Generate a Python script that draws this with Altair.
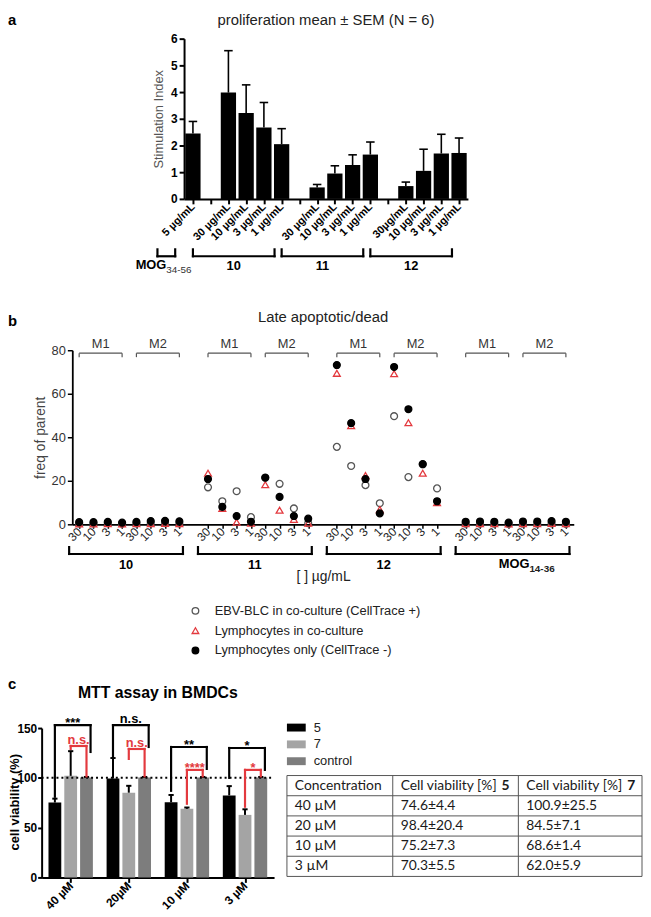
import json
import altair as alt
import pandas as pd

FONT = "Liberation Sans"
TFONT = "Lato"
RED = "#e3393e"

# ======================= data =======================
# panel a
a_title = "proliferation mean ± SEM (N = 6)"
a_tick_labels = ["5 µg/mL", "", "30 µg/mL", "10 µg/mL", "3 µg/mL", "1 µg/mL", "",
                 "30 µg/mL", "10 µg/mL", "3 µg/mL", "1 µg/mL", "",
                 "30µg/mL", "10 µg/mL", "3 µg/mL", "1 µg/mL"]
a_bar_slot = [0, 2, 3, 4, 5, 7, 8, 9, 10, 12, 13, 14, 15]
a_bar_mean = [2.45, 3.98, 3.22, 2.67, 2.05, 0.43, 0.95, 1.27, 1.66, 0.48, 1.05, 1.70, 1.72]
a_bar_sem = [0.45, 1.57, 1.05, 0.94, 0.58, 0.11, 0.29, 0.38, 0.47, 0.15, 0.81, 0.72, 0.56]
a_group_names = ["MOG", "10", "11", "12"]
a_group_sub = ["34-56", "", "", ""]
a_group_first = [0, 2, 7, 12]
a_group_last = [0, 5, 10, 15]

# panel b
b_title = "Late apoptotic/dead"
b_group_names = ["10", "11", "12", "MOG"]
b_group_sub = ["", "", "", "14-36"]
b_mix_names = ["M1", "M2"]
b_conc_labels = ["30", "10", "3", "1"]
b_axis_title = "[ ] µg/mL"
b_series = ["EBV-BLC in co-culture (CellTrace +)", "Lymphocytes in co-culture",
            "Lymphocytes only (CellTrace -)"]
b_ebv = [0.4, 0.4, 0.5, 0.3, 0.4, 0.5, 0.5, 0.4,
         17.0, 10.6, 15.2, 3.3, 21.5, 18.6, 7.3, 0.5,
         35.6, 26.8, 18.0, 9.7, 49.7, 21.7, 27.5, 16.5,
         0.3, 0.3, 0.3, 0.2, 0.3, 0.3, 0.4, 0.2]
b_lymph_co = [0.2, 0.2, 0.3, 0.2, 0.3, 0.3, 0.4, 0.3,
              23.5, 7.3, 1.0, 0.5, 18.2, 6.5, 2.3, 0.5,
              69.4, 45.3, 22.4, 6.8, 69.2, 46.7, 23.5, 10.0,
              0.3, 0.3, 0.3, 0.2, 0.3, 0.3, 0.4, 0.3]
b_lymph_only = [1.0, 1.0, 1.1, 0.8, 1.1, 1.5, 1.6, 1.4,
                20.8, 8.0, 3.8, 1.2, 21.4, 12.6, 3.8, 2.6,
                73.2, 46.5, 20.8, 5.0, 72.3, 52.9, 27.7, 10.6,
                1.2, 1.3, 1.2, 0.8, 1.3, 1.3, 1.5, 1.2]

# panel c
c_title = "MTT assay in BMDCs"
c_ytitle = "cell viability (%)"
c_conc = ["40 µM", "20µM", "10 µM", "3 µM"]
c_series = ["5", "7", "control"]
c_mean_5 = [75.2, 99.3, 75.5, 82.4]
c_sem_5 = [3.9, 20.6, 7.3, 9.3]
c_mean_7 = [102.0, 85.1, 68.9, 62.8]
c_sem_7 = [24.8, 6.9, 1.3, 5.6]
c_mean_ctrl = [100.3, 100.3, 100.3, 100.3]
c_sem_ctrl = [0.6, 0.6, 0.6, 0.6]
# significance brackets (values on the cell-viability axis)
sig_black_top = [153, 153, 131, 130]
sig_black_left_end = [81, 121, 87, 100]
sig_black_right_end = [126, 131, 109, 108]
sig_black_label = ["***", "n.s.", "**", "*"]
sig_red_top = [132, 129, 108, 108]
sig_red_left_end = [129, 119, 74, 71]
sig_red_right_end = [101.5, 101.5, 101.5, 101.5]
sig_red_label = ["n.s.", "n.s.", "****", "*"]

# table
t_header = ["Concentration", "Cell viability [%]", "Cell viability [%]"]
t_header_bold = ["", "5", "7"]
t_conc = ["40 µM", "20 µM", "10 µM", "3 µM"]
t_via5 = ["74.6±4.4", "98.4±20.4", "75.2±7.3", "70.3±5.5"]
t_via7 = ["100.9±25.5", "84.5±7.1", "68.6±1.4", "62.0±5.9"]


def one(s):
    return pd.DataFrame({"t": [s]})


def jsarr(lst):
    return json.dumps(lst, ensure_ascii=False)


# all rows share one left origin (the left edge of panel c's plot)
X0 = 42
LETTER_X = 8 - X0


def letter(ch, y):
    return alt.Chart(one(ch)).mark_text(
        font=FONT, fontSize=15, fontWeight="bold", align="left", baseline="top",
        color="black").encode(text="t:N", x=alt.value(LETTER_X), y=alt.value(y))


br = dict(color="black", strokeWidth=2.2, strokeCap="square")

# ======================= panel a =======================
AW, AH = 287, 162
AOFF = 186 - X0
a_x = alt.Scale(domain=[-0.5, len(a_tick_labels) - 0.5], range=[AOFF, AOFF + AW],
                nice=False, zero=False)
a_y = alt.Scale(domain=[0, 6], nice=False)
a_xaxis = alt.Axis(values=list(range(len(a_tick_labels))),
                   labelExpr=jsarr(a_tick_labels) + "[datum.value]",
                   title=None, labelAngle=-45, labelAlign="right", labelBaseline="middle",
                   labelFont=FONT, labelFontSize=11, labelFontWeight="bold", labelColor="black",
                   labelPadding=1, labelFlush=False, labelOverlap=False, labelBound=False,
                   tickSize=5, tickWidth=2, tickColor="black", domainWidth=2,
                   domainColor="black", grid=False)
a_yaxis = alt.Axis(values=[0, 1, 2, 3, 4, 5, 6], title="Stimulation Index", titleFont=FONT,
                   titleFontSize=13, titleFontWeight="normal", titleColor="#555",
                   titlePadding=5, labelFont=FONT, labelFontSize=12, labelFontWeight="bold",
                   labelColor="black", labelPadding=2, labelFlush=False, labelOverlap=False,
                   tickSize=5, tickWidth=2, tickColor="black", domainWidth=2,
                   domainColor="black", grid=False, offset=-AOFF)


def AX(f):
    return alt.X(f, scale=a_x, axis=a_xaxis)


def AY(f):
    return alt.Y(f, scale=a_y, axis=a_yaxis)


a_df = pd.DataFrame({"slot": a_bar_slot, "mean": a_bar_mean, "sem": a_bar_sem})
a_base = alt.Chart(a_df).transform_calculate(
    x0="datum.slot - 0.43", x1="datum.slot + 0.43", top="datum.mean + datum.sem",
    c0="datum.slot - 0.24", c1="datum.slot + 0.24", z="0")
a_bars = a_base.mark_bar(color="black").encode(x=AX("x0:Q"), x2="x1:Q",
                                               y=AY("mean:Q"), y2="z:Q")
a_err = a_base.mark_rule(color="black", strokeWidth=1.6).encode(
    x=AX("slot:Q"), y=AY("mean:Q"), y2="top:Q")
a_cap = a_base.mark_rule(color="black", strokeWidth=1.6).encode(
    x=AX("c0:Q"), x2="c1:Q", y=AY("top:Q"))

a_grp = pd.DataFrame({"name": a_group_names, "sub": a_group_sub,
                      "first": a_group_first, "last": a_group_last})
a_gb = alt.Chart(a_grp).transform_calculate(
    b0="datum.first - 2",
    b1="datum.first == datum.last ? datum.last - 1 : datum.last - 0.4",
    mid="(datum.b0 + datum.b1) / 2")
A_T, A_B = AH + 51, AH + 58
a_h = a_gb.mark_rule(**br).encode(x=AX("b0:Q"), x2="b1:Q", y=alt.value(A_B))
a_l = a_gb.mark_rule(**br).encode(x=AX("b0:Q"), y=alt.value(A_T), y2=alt.value(A_B))
a_r = a_gb.mark_rule(**br).encode(x=AX("b1:Q"), y=alt.value(A_T), y2=alt.value(A_B))
a_gl = a_gb.transform_filter("datum.sub == ''").mark_text(
    font=FONT, fontSize=13, fontWeight="bold", color="black", baseline="middle").encode(
    x=AX("mid:Q"), y=alt.value(AH + 68), text="name:N")
a_mog = a_gb.transform_filter("datum.sub != ''").mark_text(
    font=FONT, fontSize=13, fontWeight="bold", color="black", baseline="middle",
    align="right").encode(x=AX("mid:Q"), y=alt.value(AH + 67), text="name:N")
a_mogs = a_gb.transform_filter("datum.sub != ''").mark_text(
    font=FONT, fontSize=10, color="#333", baseline="middle", align="left").encode(
    x=AX("mid:Q"), y=alt.value(AH + 72), text="sub:N")
a_tl = alt.Chart(one(a_title)).mark_text(
    font=FONT, fontSize=15, color="#222", baseline="top").encode(
    text="t:N", x=alt.value(AOFF + AW / 2), y=alt.value(-26))
rowA = alt.layer(a_bars, a_err, a_cap, a_h, a_l, a_r, a_gl, a_mog, a_mogs, a_tl,
                 letter("a", -26)).properties(width=AOFF + AW, height=AH)

# ======================= panel b =======================
BW, BH = 507, 176
BOFF = 73 - X0
nconc = len(b_conc_labels)
step = len(b_mix_names) * nconc + 1
b_idx = [g * step + m * nconc + c for g in range(len(b_group_names))
         for m in range(len(b_mix_names)) for c in range(nconc)]
rows = []
for s, vals in zip(b_series, [b_ebv, b_lymph_co, b_lymph_only]):
    for i, v in zip(b_idx, vals):
        rows.append({"idx": i, "value": v, "bseries": s})
b_df = pd.DataFrame(rows)
b_x = alt.Scale(domain=[-0.48, b_idx[-1] + 0.55], range=[BOFF, BOFF + BW],
                nice=False, zero=False)
b_y = alt.Scale(domain=[0, 80], nice=False)
b_xaxis = alt.Axis(values=b_idx, labelExpr=jsarr(b_conc_labels) + f"[datum.value % {step} % {nconc}]",
                   title=b_axis_title, titleFont=FONT, titleFontSize=14, titleFontWeight="normal",
                   titleColor="#222", titleY=53, titleBaseline="middle",
                   labelAngle=-45, labelAlign="right", labelBaseline="middle",
                   labelFont=FONT, labelFontSize=12, labelColor="#222", labelPadding=1,
                   labelFlush=False, labelOverlap=False, labelBound=False,
                   tickSize=4, tickWidth=1.5, tickColor="black", domainWidth=1.8,
                   domainColor="black", grid=False)
b_yaxis = alt.Axis(values=[0, 20, 40, 60, 80], title="freq of parent", titleFont=FONT,
                   titleFontSize=14, titleFontWeight="normal", titleColor="#444", titlePadding=4,
                   labelFont=FONT, labelFontSize=13, labelColor="#333", labelPadding=2,
                   labelFlush=False, labelOverlap=False, tickSize=5, tickWidth=1.5,
                   tickColor="black", domainWidth=1.8, domainColor="black", grid=False,
                   offset=-BOFF)


def BX(f):
    return alt.X(f, scale=b_x, axis=b_xaxis)


b_leg = alt.Legend(orient="none", legendX=118 + BOFF, legendY=257, title=None, labelFont=FONT,
                   labelFontSize=13, labelColor="#222", symbolSize=45, symbolStrokeWidth=1.3,
                   rowPadding=6, labelOffset=13, padding=0, labelLimit=0)
b_pts = alt.Chart(b_df).mark_point(size=48, strokeWidth=1.3, opacity=1).encode(
    x=BX("idx:Q"),
    y=alt.Y("value:Q", scale=b_y, axis=b_yaxis),
    shape=alt.Shape("bseries:N", scale=alt.Scale(domain=b_series,
                    range=["circle", "triangle-up", "circle"]), legend=b_leg),
    fill=alt.Fill("bseries:N", scale=alt.Scale(domain=b_series,
                  range=["transparent", "transparent", "black"]), legend=b_leg),
    stroke=alt.Stroke("bseries:N", scale=alt.Scale(domain=b_series,
                      range=["#555555", RED, "black"]), legend=b_leg),
)
m_rows = []
for g in range(len(b_group_names)):
    for mi, mn in enumerate(b_mix_names):
        f = g * step + mi * nconc
        m_rows.append({"m": mn, "f": f, "l": f + nconc - 1})
m_base = alt.Chart(pd.DataFrame(m_rows)).transform_calculate(mid="(datum.f + datum.l) / 2")
mb = dict(color="#555", strokeWidth=1.2)
b_mh = m_base.mark_rule(**mb).encode(x=BX("f:Q"), x2="l:Q", y=alt.value(3))
b_ml = m_base.mark_rule(**mb).encode(x=BX("f:Q"), y=alt.value(3), y2=alt.value(7))
b_mr = m_base.mark_rule(**mb).encode(x=BX("l:Q"), y=alt.value(3), y2=alt.value(7))
b_mt = m_base.mark_text(font=FONT, fontSize=13, color="#333", baseline="middle").encode(
    x=BX("mid:Q"), y=alt.value(-6), text="m:N")

bg = pd.DataFrame({"name": b_group_names, "sub": b_group_sub,
                   "first": [g * step for g in range(len(b_group_names))],
                   "last": [g * step + step - 2 for g in range(len(b_group_names))]})
bg_base = alt.Chart(bg).transform_calculate(
    b0="datum.first - 0.7", b1="datum.last + 0.25", mid="(datum.b0 + datum.b1) / 2")
B_T, B_B = BH + 23, BH + 30
b_gh = bg_base.mark_rule(**br).encode(x=BX("b0:Q"), x2="b1:Q", y=alt.value(B_B))
b_gl = bg_base.mark_rule(**br).encode(x=BX("b0:Q"), y=alt.value(B_T), y2=alt.value(B_B))
b_gr = bg_base.mark_rule(**br).encode(x=BX("b1:Q"), y=alt.value(B_T), y2=alt.value(B_B))
b_gt = bg_base.transform_filter("datum.sub == ''").mark_text(
    font=FONT, fontSize=13, fontWeight="bold", color="black", baseline="middle").encode(
    x=BX("mid:Q"), y=alt.value(BH + 41), text="name:N")
b_mog = bg_base.transform_filter("datum.sub != ''").mark_text(
    font=FONT, fontSize=13, fontWeight="bold", color="black", baseline="middle",
    align="right", dx=17).encode(x=BX("mid:Q"), y=alt.value(BH + 40), text="name:N")
b_mogs = bg_base.transform_filter("datum.sub != ''").mark_text(
    font=FONT, fontSize=10, fontWeight="bold", color="#222", baseline="middle",
    align="left", dx=17).encode(x=BX("mid:Q"), y=alt.value(BH + 45), text="sub:N")
b_tl = alt.Chart(one(b_title)).mark_text(
    font=FONT, fontSize=15, color="#222", baseline="middle").encode(
    text="t:N", x=alt.value(BOFF + BW / 2), y=alt.value(-34))
rowB = alt.layer(b_pts, b_mh, b_ml, b_mr, b_mt, b_gh, b_gl, b_gr, b_gt, b_mog, b_mogs,
                 b_tl, letter("b", -36)).properties(width=BOFF + BW, height=BH)

# ======================= panel c =======================
CW, CH = 235, 151
CTOP = 53          # empty band above panel c's plot (title, brackets)
C_ROW_W = 607      # panel c plot + legend + table
c_x = alt.Scale(domain=[-0.5, len(c_conc) - 0.5], range=[0, CW], nice=False, zero=False)
c_y = alt.Scale(domain=[0, 150], range=[CTOP + CH, CTOP], nice=False)
rows = []
for gi in range(len(c_conc)):
    for si, (s, mm, ss) in enumerate(zip(c_series, [c_mean_5, c_mean_7, c_mean_ctrl],
                                          [c_sem_5, c_sem_7, c_sem_ctrl])):
        rows.append({"gi": gi, "si": si, "cseries": s, "mean": mm[gi], "sem": ss[gi]})
c_df = pd.DataFrame(rows)
c_xaxis = alt.Axis(values=list(range(len(c_conc))), labelExpr=jsarr(c_conc) + "[datum.value]",
                   title=None, labelAngle=-45, labelAlign="right", labelBaseline="middle",
                   labelFont=FONT, labelFontSize=12, labelFontWeight="bold", labelColor="black",
                   labelPadding=1, labelFlush=False, labelOverlap=False, labelBound=False,
                   tickSize=5, tickWidth=2, tickColor="black", domainWidth=2,
                   domainColor="black", grid=False)
c_yaxis = alt.Axis(values=[0, 50, 100, 150], title=None, labelFont=FONT, labelFontSize=12,
                   labelFontWeight="bold", labelColor="black", labelPadding=1, labelFlush=False,
                   labelOverlap=False, tickSize=4, tickWidth=2, tickColor="black",
                   domainWidth=2, domainColor="black", grid=False)


def CX(f):
    return alt.X(f, scale=c_x, axis=c_xaxis)


def CY(f):
    return alt.Y(f, scale=c_y, axis=c_yaxis)


c_leg = alt.Legend(orient="none", legendX=248, legendY=CTOP - 10, title=None, labelFont=FONT,
                   labelFontSize=13, labelColor="#222", symbolType="M-1,-0.42H1V0.42H-1Z",
                   symbolSize=361, symbolStrokeWidth=0, rowPadding=-1.5, labelOffset=8,
                   padding=0)
c_base = alt.Chart(c_df).transform_calculate(
    pos="datum.gi + (datum.si - 1) * 0.272").transform_calculate(
    x0="datum.pos - 0.11", x1="datum.pos + 0.11", top="datum.mean + datum.sem",
    c0="datum.pos - 0.045", c1="datum.pos + 0.045", z="0", xl="-0.5",
    xr=f"{len(c_conc)} - 0.5", ref="100")
c_bars = c_base.mark_bar().encode(
    x=CX("x0:Q"), x2="x1:Q", y=CY("mean:Q"), y2="z:Q",
    color=alt.Color("cseries:N", scale=alt.Scale(domain=c_series,
                    range=["#000000", "#a4a4a4", "#7d7d7d"]), legend=c_leg))
c_err = c_base.mark_rule(color="black", strokeWidth=2).encode(
    x=CX("pos:Q"), y=CY("mean:Q"), y2="top:Q")
c_cap = c_base.mark_rule(color="black", strokeWidth=2).encode(
    x=CX("c0:Q"), x2="c1:Q", y=CY("top:Q"))
c_dot = c_base.transform_filter("datum.gi == 0 && datum.si == 0").mark_rule(
    color="black", strokeWidth=2, strokeDash=[2, 3]).encode(
    x=CX("xl:Q"), x2="xr:Q", y=CY("ref:Q"))

sig_rows = []
for gi in range(len(c_conc)):
    sig_rows.append({"gi": gi, "kind": "black", "ls": 0, "rs": 2, "top": sig_black_top[gi],
                     "lb": sig_black_left_end[gi], "rb": sig_black_right_end[gi],
                     "label": sig_black_label[gi]})
    sig_rows.append({"gi": gi, "kind": "red", "ls": 1, "rs": 2, "top": sig_red_top[gi],
                     "lb": sig_red_left_end[gi], "rb": sig_red_right_end[gi],
                     "label": sig_red_label[gi]})
sig_base = alt.Chart(pd.DataFrame(sig_rows)).transform_calculate(
    l="datum.gi + (datum.ls - 1) * 0.272",
    r="datum.gi + (datum.rs - 1) * 0.272 + (datum.kind == 'black' ? 0.07 : 0)").transform_calculate(
    mid="(datum.l + datum.r) / 2",
    ly="datum.label == 'n.s.' ? datum.top + 6 : datum.top + 2")
sig_stroke = alt.Stroke("kind:N", scale=alt.Scale(domain=["black", "red"], range=["black", RED]),
                        legend=None)
sig_fill = alt.Fill("kind:N", scale=alt.Scale(domain=["black", "red"], range=["black", RED]),
                    legend=None)
sr = dict(strokeWidth=2.2, strokeCap="square")
s_h = sig_base.mark_rule(**sr).encode(x=CX("l:Q"), x2="r:Q", y=CY("top:Q"), stroke=sig_stroke)
s_l = sig_base.mark_rule(**sr).encode(x=CX("l:Q"), y=CY("top:Q"), y2="lb:Q", stroke=sig_stroke)
s_r = sig_base.mark_rule(**sr).encode(x=CX("r:Q"), y=CY("top:Q"), y2="rb:Q", stroke=sig_stroke)
s_t = sig_base.mark_text(font=FONT, fontSize=13, fontWeight="bold", baseline="middle").encode(
    x=CX("mid:Q"), y=CY("ly:Q"), text="label:N", fill=sig_fill)
c_tl = alt.Chart(one(c_title)).mark_text(
    font=FONT, fontSize=16, fontWeight="bold", color="black", baseline="middle").encode(
    text="t:N", x=alt.value(CW / 2), y=alt.value(CTOP - 35))
c_yt = alt.Chart(one(c_ytitle)).mark_text(
    font=FONT, fontSize=13, fontWeight="bold", color="black", angle=270,
    baseline="middle", align="center").encode(
    text="t:N", x=alt.value(15 - X0), y=alt.value(CTOP + 75))
panelC = alt.layer(c_bars, c_err, c_cap, c_dot, s_h, s_l, s_r, s_t, c_tl, c_yt,
                   letter("c", CTOP - 51))

# ======================= table =======================
cells = []
table_rows = [t_header] + [list(r) for r in zip(t_conc, t_via5, t_via7)]
for ri, row in enumerate(table_rows):
    for ci, txt in enumerate(row):
        cells.append({"row": ri, "col": ci, "txt": txt,
                      "bold": t_header_bold[ci] if ri == 0 else ""})
ncols, nrows = len(t_header), len(table_rows)
t_x = alt.Scale(domain=list(range(ncols + 1)), range=[248, 355, 482, C_ROW_W],
                nice=False, zero=False)
t_y = alt.Scale(domain=[0, nrows], range=[CTOP + 48, CTOP + 150], nice=False, zero=False)
t_base = alt.Chart(pd.DataFrame(cells)).transform_calculate(yc="datum.row + 0.5")
t_text = t_base.mark_text(font=TFONT, fontSize=14, color="#1a1a1a", align="left",
                          baseline="middle", dx=8).encode(
    x=alt.X("col:Q", scale=t_x, axis=None), y=alt.Y("yc:Q", scale=t_y, axis=None),
    text="txt:N")
t_bold = t_base.transform_filter("datum.bold != ''").mark_text(
    font=TFONT, fontSize=14, fontWeight="bold", color="#1a1a1a", align="left",
    baseline="middle", dx=110).encode(
    x=alt.X("col:Q", scale=t_x, axis=None), y=alt.Y("yc:Q", scale=t_y, axis=None),
    text="bold:N")
hl = pd.DataFrame({"r": list(range(nrows + 1)), "c0": 0, "c1": ncols})
vl = pd.DataFrame({"c": list(range(ncols + 1)), "r0": 0, "r1": nrows})
t_h = alt.Chart(hl).mark_rule(color="#555", strokeWidth=1).encode(
    x=alt.X("c0:Q", scale=t_x, axis=None), x2="c1:Q", y=alt.Y("r:Q", scale=t_y, axis=None))
t_v = alt.Chart(vl).mark_rule(color="#555", strokeWidth=1).encode(
    x=alt.X("c:Q", scale=t_x, axis=None), y=alt.Y("r0:Q", scale=t_y, axis=None), y2="r1:Q")
tableC = alt.layer(t_h, t_v, t_text, t_bold)

rowC = alt.layer(panelC, tableC).resolve_scale(x="independent", y="independent").properties(
    width=C_ROW_W, height=CTOP + CH)

# ======================= layout =======================
indep = dict(color="independent", fill="independent", stroke="independent",
             shape="independent")
chart = alt.vconcat(rowA, rowB, rowC, spacing=153, bounds="flush").resolve_scale(**indep)
chart = chart.properties(padding=0).configure_view(stroke=None)

chart.save("out.html", embed_options={"renderer": "svg", "actions": False})
